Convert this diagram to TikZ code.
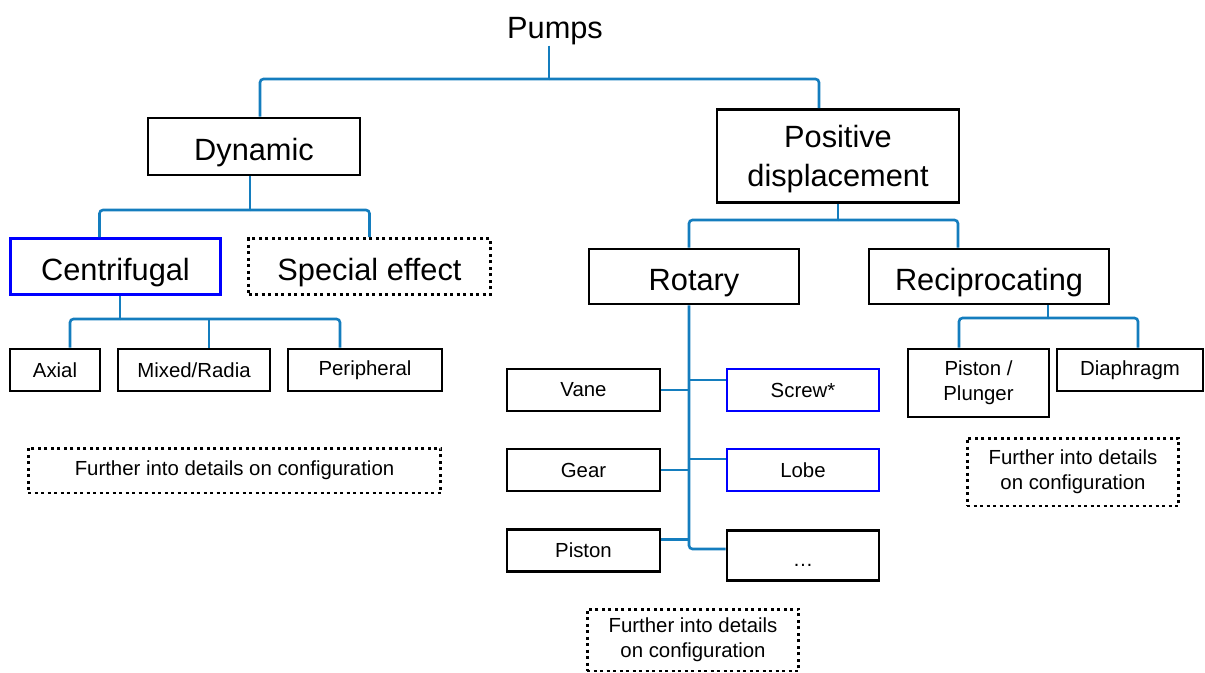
\documentclass[tikz,border=0pt]{standalone}
\usepackage{fontspec}
\setmainfont{Liberation Sans}
\usetikzlibrary{calc}
\definecolor{linkblue}{RGB}{20,125,190}

\begin{document}
\begin{tikzpicture}[
  x=0.02cm, y=-0.02cm,
  every node/.style={align=center, inner sep=0pt},
  big/.style={font=\fontsize{17.5}{22.5}\selectfont},
  bigline/.style={big, text height=15.4pt, text depth=0pt},
  small/.style={font=\fontsize{11.6}{14}\selectfont},
  box/.style={draw, line width=1.6pt},
  bluebox/.style={box, draw=blue},
  dotbox/.style={draw, line width=1.7pt, dotted},
  link/.style={line width=1.5pt, draw=linkblue, rounded corners=2pt}
]
\useasboundingbox (0,0) rectangle (1205,673);

\node[big] (pumps) at (555,31.5) {Pumps};

\node[bigline, box, minimum width=4.24cm, minimum height=1.14cm] (dyn) at (254,146.5) {Dynamic};
\node[big, box, text depth=0pt, minimum width=4.84cm, minimum height=1.86cm] (pos) at (838,156) {Positive\\displacement};

% DYNAMIC SIDE
\node[bigline, bluebox, minimum width=4.2cm, minimum height=1.12cm] (cent) at (115.5,266.5) {Centrifugal};
\node[bigline, dotbox, minimum width=4.84cm, minimum height=1.12cm] (spec) at (369.5,266.5) {Special effect};

\node[small, box, minimum width=1.8cm, minimum height=0.84cm] (axial) at (55,370) {Axial};
\node[small, box, minimum width=3.04cm, minimum height=0.84cm] (mixed) at (194,370) {Mixed/Radia};
\node[small, box, minimum width=3.08cm, minimum height=0.84cm] (periph) at (365,370) {Peripheral};

\node[small, dotbox, minimum width=8.26cm, minimum height=0.9cm] (furtherL) at (234.5,470.5) {Further into details on configuration};

% POSITIVE DISPLACEMENT SIDE
\node[bigline, box, minimum width=4.2cm, minimum height=1.1cm] (rot) at (694,276.5) {Rotary};
\node[bigline, box, minimum width=4.8cm, minimum height=1.1cm] (recip) at (989,276.5) {Reciprocating};

\node[small, box, minimum width=3.06cm, minimum height=0.84cm] (vane) at (583.5,390) {Vane};
\node[small, box, minimum width=3.06cm, minimum height=0.84cm] (gear) at (583.5,470) {Gear};
\node[small, box, minimum width=3.06cm, minimum height=0.84cm] (piston) at (583.5,550.5) {Piston};
\node[small, bluebox, minimum width=3.04cm, minimum height=0.84cm] (screw) at (803,390) {Screw*};
\node[small, bluebox, minimum width=3.04cm, minimum height=0.84cm] (lobe) at (803,470) {Lobe};
\node[small, box, minimum width=3.04cm, minimum height=1.0cm, text height=12pt, text depth=0pt] (more) at (803,555.5) {\dots};

\node[small, dotbox, minimum width=4.24cm, minimum height=1.24cm] (furtherM) at (693,640) {Further into details\\on configuration};

\node[small, box, minimum width=2.82cm, minimum height=1.36cm] (plunger) at (978.5,383) {Piston /\\Plunger};
\node[small, box, minimum width=2.92cm, minimum height=0.84cm] (diaph) at (1130,370) {Diaphragm};

\node[small, dotbox, minimum width=4.24cm, minimum height=1.36cm] (furtherR) at (1073,472) {Further into details\\on configuration};

% CONNECTORS
\coordinate (j0) at (549,79);
\draw[link] (pumps.south -| j0) -- (j0);
\draw[link] (j0) -| ([xshift=0.12cm]dyn.north);
\draw[link] (j0) -| ([xshift=-0.38cm]pos.north);

\coordinate (j1) at (250,210);
\draw[link] (dyn.south -| j1) -- (j1);
\draw[link] (j1) -| ([xshift=-0.32cm]cent.north);
\draw[link] (j1) -| (spec.north);

\coordinate (j2) at (120,319);
\draw[link] (cent.south -| j2) -- (j2);
\draw[link] (j2) -| ([xshift=0.3cm]axial.north);
\draw[link] (j2) -| ([xshift=-0.5cm]periph.north);
\draw[link] ([xshift=0.3cm]mixed.north) -- ([xshift=0.3cm]mixed.north |- j2);

\coordinate (j3) at (838,220);
\draw[link] (pos.south) -- (j3);
\draw[link] (j3) -| ([xshift=-0.1cm]rot.north);
\draw[link] (j3) -| ([xshift=-0.62cm]recip.north);

\coordinate (j4) at (1048,318);
\draw[link] (recip.south -| j4) -- (j4);
\draw[link] (j4) -| ([xshift=-0.39cm]plunger.north);
\draw[link] (j4) -| ([xshift=0.16cm]diaph.north);

% ROTARY TRUNK
\coordinate (trunk) at ([xshift=-0.1cm]rot.south);
\draw[link] (trunk) |- ([yshift=0.13cm]more.west);
\draw[link] (vane.east) -- (vane.east -| trunk);
\draw[link] (gear.east) -- (gear.east -| trunk);
\draw[link] ([yshift=0.22cm]piston.east) -- ([yshift=0.22cm]piston.east -| trunk);
\draw[link] ([yshift=0.2cm]screw.west) -- ([yshift=0.2cm]screw.west -| trunk);
\draw[link] ([yshift=0.22cm]lobe.west) -- ([yshift=0.22cm]lobe.west -| trunk);

\end{tikzpicture}
\end{document}
